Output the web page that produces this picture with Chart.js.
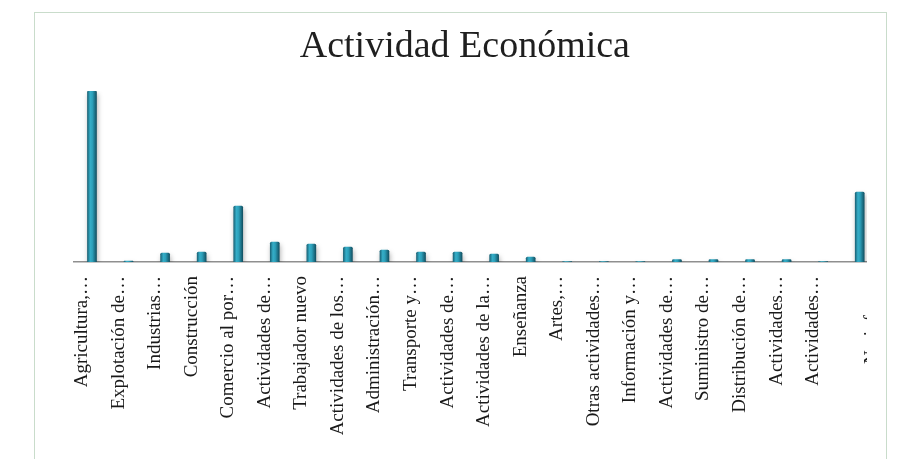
<!DOCTYPE html>
<html>
<head>
<meta charset="utf-8">
<title>Actividad Económica</title>
<script src="https://cdn.jsdelivr.net/npm/chart.js@4/dist/chart.umd.min.js"></script>
<style>
  html, body { margin: 0; padding: 0; background: #fff; }
  body { width: 900px; height: 459px; position: relative; overflow: hidden; }
  #frame {
    position: absolute; left: 34px; top: 12px; width: 853px; height: 470px;
    border: 1.5px solid #c9dccb; box-sizing: border-box;
  }
  #clip { position: absolute; left: 0; top: 0; width: 867px; height: 459px; overflow: hidden; }
</style>
</head>
<body>
<div id="frame"></div>
<div id="clip"><canvas id="chart" width="900" height="459"></canvas></div>
<script>
// categorias (etiquetas recortadas como en el eje)
// la última lleva una línea vacía delante para que caiga fuera del borde
const categorias = [
  "Agricultura,…", "Explotación de…", "Industrias…", "Construcción",
  "Comercio al por…", "Actividades de…", "Trabajador nuevo", "Actividades de los…",
  "Administración…", "Transporte y…", "Actividades de…", "Actividades de la…",
  "Enseñanza", "Artes,…", "Otras actividades…", "Información y…",
  "Actividades de…", "Suministro de…", "Distribución de…", "Actividades…",
  "Actividades…", ["", "No informa"]
];

const personas = [
  171, 1, 9, 10,
  56, 20, 18, 15,
  12, 10, 10, 8,
  5, 0.5, 0.5, 0.5,
  2.5, 2.5, 2.5, 2.5,
  0.5, 70
];

const titulo = "Actividad Económica";

// degradado horizontal para que cada barra parezca un cilindro
function colorBarra(ctx) {
  const chart = ctx.chart;
  if (!chart.chartArea) return "#2a9ab3";
  const x = chart.scales.x.getPixelForValue(ctx.dataIndex);
  const g = chart.ctx.createLinearGradient(x - 4.5, 0, x + 4.5, 0);
  g.addColorStop(0, "#1b6579");
  g.addColorStop(0.3, "#35aec8");
  g.addColorStop(0.55, "#2c9fb9");
  g.addColorStop(1, "#135264");
  return g;
}

const sombra = {
  id: "sombra",
  beforeDatasetsDraw(chart) {
    const c = chart.ctx;
    c.save();
    c.shadowColor = "rgba(0,0,0,0.3)";
    c.shadowBlur = 5;
    c.shadowOffsetX = 1;
    c.shadowOffsetY = 3;
  },
  afterDatasetsDraw(chart) {
    chart.ctx.restore();
  }
};

new Chart(document.getElementById("chart"), {
  type: "bar",
  data: {
    labels: categorias,
    datasets: [{
      data: personas,
      backgroundColor: colorBarra,
      barThickness: 9,
      borderRadius: 1.5,
      borderSkipped: "bottom"
    }]
  },
  plugins: [sombra],
  options: {
    responsive: false,
    animation: false,
    layout: { padding: { left: 51.7, right: 22, top: 0, bottom: 0 } },
    plugins: {
      legend: { display: false },
      tooltip: { enabled: false },
      title: {
        display: true,
        text: titulo,
        color: "#1f1f1f",
        font: { family: "'Liberation Serif', 'Times New Roman', serif", size: 38, weight: "normal" },
        padding: { top: 24, bottom: 21.4 }
      }
    },
    scales: {
      x: {
        grid: { display: false, drawTicks: false },
        border: { display: true, color: "#8f8f8f", width: 1.5 },
        afterFit(scale) {
          scale.height = 197;
          // las etiquetas no deben estrechar el área del gráfico
          scale.paddingLeft = 0;
          scale.paddingRight = 0;
        },
        ticks: {
          autoSkip: false,
          minRotation: 90,
          maxRotation: 90,
          padding: 14,
          labelOffset: -10,
          color: "#1a1a1a",
          font: { family: "'Liberation Serif', 'Times New Roman', serif", size: 19, lineHeight: 1.15 }
        }
      },
      y: {
        min: 0,
        max: 171,
        afterFit(scale) { scale.width = 22; },
        grid: { display: false },
        border: { display: false },
        ticks: { display: false }
      }
    }
  }
});
</script>
</body>
</html>
